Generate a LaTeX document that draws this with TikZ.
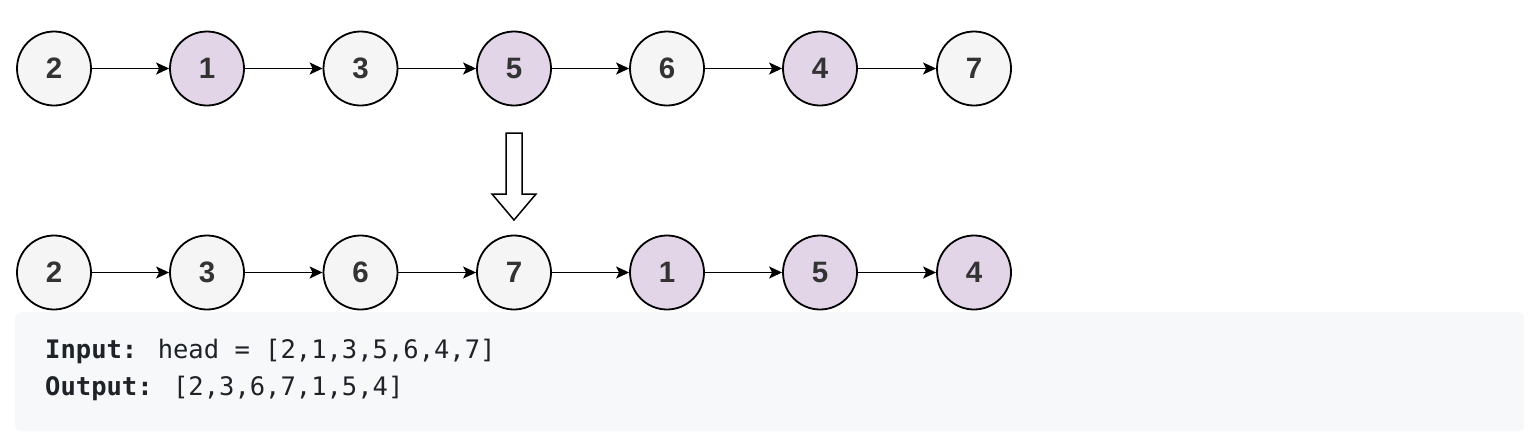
\documentclass[tikz,border=0pt]{standalone}
\usepackage{fontspec}
\setmainfont{Liberation Sans}
\newfontfamily\codefont{DejaVu Sans Mono}
\usetikzlibrary{arrows.meta}
\definecolor{nodegray}{HTML}{F5F5F5}
\definecolor{nodepurple}{HTML}{E1D5E7}
\definecolor{digit}{HTML}{333333}
\definecolor{boxbg}{HTML}{F6F8FA}
\definecolor{codetext}{HTML}{1F2328}
\tikzset{
  listnode/.style={circle, draw=black, line width=1.8pt, minimum size=74pt, inner sep=0pt,
    font=\fontsize{29.5}{32}\selectfont\bfseries, text=digit},
  gnode/.style={listnode, fill=nodegray},
  pnode/.style={listnode, fill=nodepurple},
  link/.style={line width=1.5pt, -{Stealth[length=13pt,width=12pt,inset=3pt]}},
  codeline/.style={anchor=base west, inner sep=0pt, text=codetext,
    font=\codefont\fontsize{25.5}{30}\selectfont}
}
\begin{document}
\begin{tikzpicture}[x=1pt,y=-1pt]
\useasboundingbox (0,0) rectangle (1528,434);
% top row
\node[gnode] (t1) at (54,68.5) {2};
\node[pnode] (t2) at (207,68.5) {1};
\node[gnode] (t3) at (360.5,68.5) {3};
\node[pnode] (t4) at (514,68.5) {5};
\node[gnode] (t5) at (667,68.5) {6};
\node[pnode] (t6) at (820,68.5) {4};
\node[gnode] (t7) at (974,68.5) {7};
\foreach \a/\b in {t1/t2,t2/t3,t3/t4,t4/t5,t5/t6,t6/t7} \draw[link] (\a) -- (\b);
% block arrow
\draw[line width=1.5pt, fill=white, line join=miter]
  (506,133) -- (522,133) -- (522,194) -- (536,194) -- (514,220) -- (492,194) -- (506,194) -- cycle;
% bottom row
\node[gnode] (b1) at (54,272.5) {2};
\node[gnode] (b2) at (207,272.5) {3};
\node[gnode] (b3) at (360.5,272.5) {6};
\node[gnode] (b4) at (514,272.5) {7};
\node[pnode] (b5) at (667,272.5) {1};
\node[pnode] (b6) at (820,272.5) {5};
\node[pnode] (b7) at (974,272.5) {4};
\foreach \a/\b in {b1/b2,b2/b3,b3/b4,b4/b5,b5/b6,b6/b7} \draw[link] (\a) -- (\b);
% example box
\fill[boxbg, rounded corners=5pt] (15,312) rectangle (1524,431);
\node[codeline] (in) at (45,358) {\textbf{Input:} head = [2,1,3,5,6,4,7]};
\node[codeline] (out) at (45,395) {\textbf{Output:} [2,3,6,7,1,5,4]};
\end{tikzpicture}
\end{document}
